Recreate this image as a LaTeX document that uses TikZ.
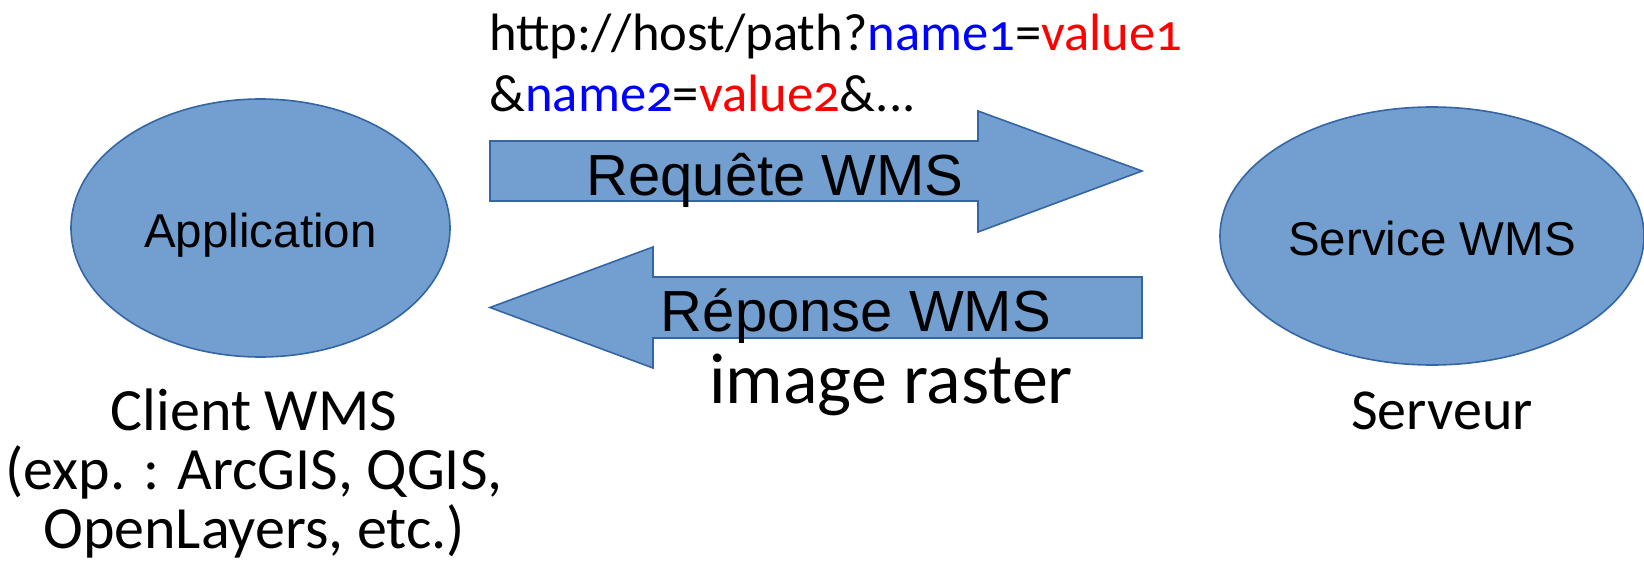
\documentclass[tikz,border=0pt]{standalone}
\usepackage{fontspec}
\setmainfont{Carlito}[Numbers=OldStyle]
\newfontfamily\arialfont{Liberation Sans}
\usetikzlibrary{shapes.geometric,calc}
\definecolor{blobfill}{HTML}{729FCF}
\definecolor{blobline}{HTML}{3465A4}
\definecolor{urlblue}{HTML}{0000FF}
\definecolor{urlred}{HTML}{FF0000}

\begin{document}
\begin{tikzpicture}[x=0.5pt,y=-0.5pt,
  blob/.style={ellipse, fill=blobfill, draw=blobline, line width=0.8pt, inner sep=0pt},
  bigarrow/.style={fill=blobfill, draw=blobline, line width=0.8pt, line join=miter},
  arialtxt/.style={font=\arialfont\fontsize{23.75pt}{28pt}\selectfont, inner sep=0pt, anchor=base},
  arrowtxt/.style={font=\arialfont\fontsize{29pt}{34pt}\selectfont, inner sep=0pt, anchor=base},
  caltxt/.style={inner sep=0pt, anchor=base},
]
\useasboundingbox (0,0) rectangle (1644,578);

% client and server
\node[blob, minimum width=189.5pt, minimum height=129pt] (app) at (260.5,228) {};
\node[blob, minimum width=212pt, minimum height=129pt] (srv) at (1432,236) {};
\node[arialtxt] (apptxt) at ($(app.center)+(0,19)$) {Application};
\node[arialtxt] (srvtxt) at ($(srv.center)+(0,19)$) {Service WMS};

% request and response arrows
\draw[bigarrow] (490,141) -- (978,141) -- (978,111) -- (1142,171) -- (978,232) -- (978,201) -- (490,201) -- cycle;
\draw[bigarrow] (1142,277) -- (653,277) -- (653,247) -- (490,307.5) -- (653,368) -- (653,338) -- (1142,338) -- cycle;
\node[arrowtxt] (req) at (775,195) {Requête WMS};
\node[arrowtxt] (rep) at (856,331) {Réponse WMS};

% request URL
\node[caltxt, anchor=base west, font=\fontsize{26.3pt}{30pt}\selectfont] (url1) at (489,50)
  {http://host/path?\textcolor{urlblue}{name1}=\textcolor{urlred}{value1}};
\node[caltxt, anchor=base west, font=\fontsize{26.3pt}{30pt}\selectfont] (url2) at (489,111)
  {\&\textcolor{urlblue}{name2}=\textcolor{urlred}{value2}\&...};

% captions
\node[caltxt, font=\fontsize{36pt}{40pt}\selectfont] (img) at (891,403) {image raster};
\node[caltxt, font=\fontsize{29pt}{34pt}\selectfont] (serveur) at (1442,429) {Serveur};
\node[caltxt, align=center, font=\fontsize{30pt}{29.5pt}\selectfont] (client) at (254,548)
  {Client WMS\\(exp. : ArcGIS, QGIS,\\OpenLayers, etc.)};
\end{tikzpicture}
\end{document}
